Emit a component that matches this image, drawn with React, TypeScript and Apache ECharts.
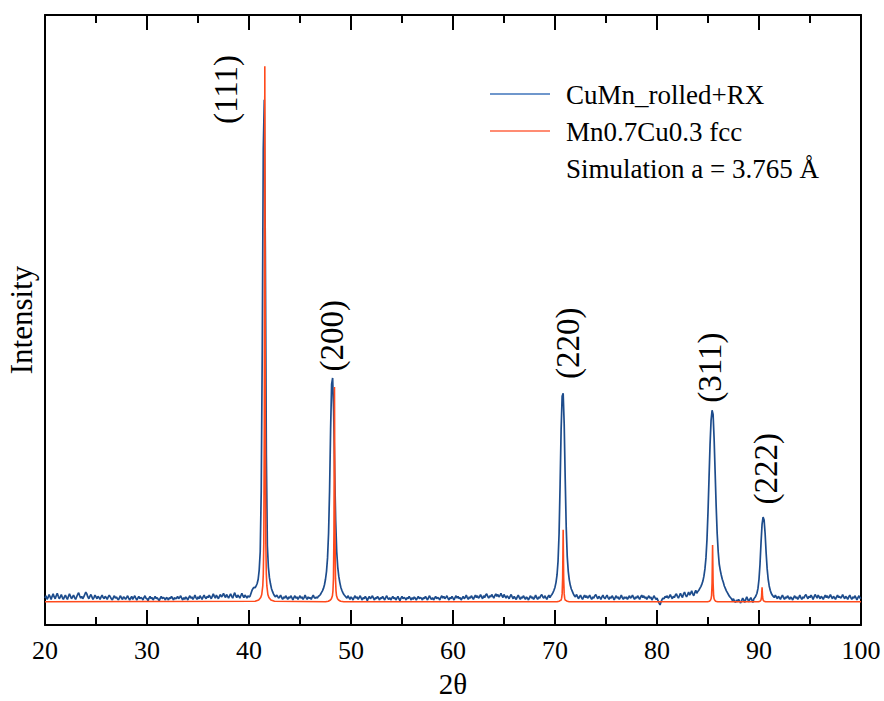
import React, { useEffect, useRef } from "react";
import * as echarts from "echarts";

// Measured pattern: CuMn_rolled+RX, 2θ from 20 to 100 in 0.1° steps
const BLUE_START = 20;
const BLUE_STEP = 0.1;
const blueValues: number[] = [
  44,48,42,45,50,46,42,47,51,46, // 20
  43,48,52,47,43,46,50,45,42,46, // 21
  49,45,42,47,51,47,43,46,49,45, // 22
  42,46,50,53,48,44,47,43,46,50, // 23
  54,51,46,43,47,50,46,42,45,49, // 24
  46,43,47,45,42,46,49,45,43,47, // 25
  45,42,46,49,46,43,41,45,48,44, // 26
  46,43,41,45,48,44,42,46,45,42, // 27
  45,48,44,41,44,47,42,45,48,44, // 28
  41,44,47,43,45,44,41,45,48,44, // 29
  43,40,44,47,43,45,41,44,47,43, // 30
  45,42,40,44,47,43,45,44,41,45, // 31
  44,41,45,43,47,44,41,45,43,44, // 32
  47,43,45,48,44,41,45,42,46,44, // 33
  41,45,48,44,46,42,45,49,45,42, // 34
  46,43,48,45,42,46,49,45,43,47, // 35
  45,49,46,43,47,51,47,44,49,46, // 36
  43,47,50,46,48,52,48,45,50,47, // 37
  44,48,51,47,44,49,53,48,45,49, // 38
  47,44,48,52,48,45,49,47,44,48, // 39
  46,47,52,57,60,62,61,64,68,75, // 40
  90,120,220,450,780,861,620,280,130,95, // 41
  78,68,60,55,51,48,46,49,47,44, // 42
  46,49,45,42,46,44,48,45,42,46, // 43
  44,48,45,41,45,48,44,46,42,45, // 44
  48,44,46,42,45,49,45,42,46,44, // 45
  45,42,46,49,45,44,46,44,47,48, // 46
  50,53,56,60,66,75,88,110,150,220, // 47
  320,395,405,350,250,170,120,95,80,70, // 48
  62,57,53,50,48,46,44,48,45,42, // 49
  46,44,41,45,48,44,46,42,45,48, // 50
  44,41,45,43,47,44,40,44,47,43, // 51
  45,48,44,41,45,43,47,44,41,45, // 52
  43,47,44,41,45,48,44,42,45,41, // 53
  44,47,43,45,41,44,47,43,40,44, // 54
  47,43,45,44,41,45,43,47,44,41, // 55
  45,42,46,44,41,44,47,43,45,44, // 56
  41,45,43,47,44,41,45,48,44,42, // 57
  45,41,44,47,43,45,44,41,45,48, // 58
  44,47,43,45,48,44,41,45,43,47, // 59
  44,41,45,48,44,47,43,45,41,44, // 60
  47,43,45,49,45,42,46,44,48,45, // 61
  42,46,49,45,48,44,46,50,46,43, // 62
  48,45,49,51,47,44,48,46,50,47, // 63
  44,48,51,47,50,46,48,52,48,45, // 64
  50,47,44,48,46,43,47,50,46,43, // 65
  47,44,42,46,49,45,42,46,44,48, // 66
  45,42,46,44,41,45,48,44,46,42, // 67
  45,49,45,42,46,44,48,50,46,44, // 68
  48,45,42,46,49,45,48,50,53,57, // 69
  62,70,82,105,150,230,320,375,380,330, // 70
  240,160,112,88,74,65,59,55,51,48, // 71
  46,50,47,43,46,49,45,42,46,49, // 72
  45,48,44,46,49,45,42,46,44,48, // 73
  50,46,43,47,45,42,46,49,45,43, // 74
  46,49,45,42,46,44,48,45,41,45, // 75
  48,44,46,42,45,49,45,42,46,44, // 76
  46,42,45,48,44,46,49,45,42,46, // 77
  44,48,45,42,46,49,45,48,44,46, // 78
  42,45,48,44,46,41,44,48,45,42, // 79
  44,40,36,33,38,42,44,43,47,45, // 80
  48,44,46,50,46,43,47,45,49,51, // 81
  47,44,48,52,48,45,51,54,49,46, // 82
  50,54,49,52,56,51,48,53,57,52, // 83
  55,57,60,63,67,72,80,92,110,140, // 84
  185,240,295,335,352,345,305,250,195,150, // 85
  120,100,90,82,75,70,64,60,56,53, // 86
  50,47,45,43,40,43,39,37,41,38, // 87
  42,39,36,40,44,41,37,42,46,42, // 88
  38,42,45,41,37,43,45,48,52,60, // 89
  75,100,135,165,177,172,150,118,92,75, // 90
  64,57,52,49,47,45,49,46,43,47, // 91
  45,42,46,49,45,42,46,44,48,45, // 92
  42,46,44,41,45,48,44,46,42,45, // 93
  49,45,42,46,44,48,50,46,43,47, // 94
  45,49,46,42,46,50,47,44,49,46, // 95
  43,47,45,42,46,49,45,48,44,46, // 96
  50,46,43,47,45,42,46,49,45,47, // 97
  44,46,50,46,43,47,45,42,46,49, // 98
  45,42,46,44,48,45,41,45,48,44, // 99
  45, // 100
];

// Simulated fcc pattern: Mn0.7Cu0.3, [2θ, intensity]
const redPoints: [number, number][] = [
  [20, 38], [40.6, 39],
  [40.95, 41], [41.15, 45], [41.25, 50], [41.35, 64], [41.4, 83], [41.45, 134], [41.5, 327], [41.525, 619],
  [41.55, 916],
  [41.575, 619], [41.6, 327], [41.65, 134], [41.7, 83], [41.75, 64], [41.85, 50], [41.95, 45], [42.15, 41], [42.5, 39],
  [47.5, 38], [47.78, 39], [47.98, 41], [48.08, 43], [48.18, 48], [48.23, 56], [48.28, 76], [48.33, 154], [48.355, 271],
  [48.38, 390],
  [48.405, 271], [48.43, 154], [48.48, 76], [48.53, 56], [48.58, 48], [48.68, 43], [48.78, 41], [48.98, 39], [49.3, 38],
  [70.2, 38], [70.4, 39], [70.5, 40], [70.6, 41], [70.65, 44], [70.7, 51], [70.75, 77], [70.775, 116],
  [70.8, 156],
  [70.825, 116], [70.85, 77], [70.9, 51], [70.95, 44], [71.0, 41], [71.1, 40], [71.2, 39], [71.4, 38],
  [84.95, 38], [85.15, 39], [85.25, 41], [85.3, 43], [85.35, 48], [85.4, 69], [85.425, 100],
  [85.45, 131],
  [85.475, 100], [85.5, 69], [85.55, 48], [85.6, 43], [85.65, 41], [85.75, 39], [85.95, 38],
  [89.95, 38], [90.1, 39], [90.2, 41], [90.25, 46], [90.275, 54],
  [90.3, 62],
  [90.325, 54], [90.35, 46], [90.4, 41], [90.5, 39], [90.65, 38],
  [100, 38],
];

// Reflection labels: [2θ, intensity, text]
const peakLabels: [number, number, string][] = [
  [37.75, 878, "(111)"],
  [48.15, 474, "(200)"],
  [71.3, 462, "(220)"],
  [85.2, 422, "(311)"],
  [90.65, 256, "(222)"],
];

const legendItems = ["CuMn_rolled+RX", "Mn0.7Cu0.3 fcc", "Simulation a = 3.765 Å"];
const xTicks = { min: 20, max: 100, interval: 10 };

const FONT = '"Liberation Serif", "Times New Roman", serif';
const BLUE = "#1d4c8c";
const RED = "#ff4a1c";

export default function App() {
  const ref = useRef<HTMLDivElement>(null);
  useEffect(() => {
    if (!ref.current) return;
    const chart = echarts.init(ref.current, null, { renderer: "svg" });
    const blueData = blueValues.map((v, i) => [
      +(BLUE_START + i * BLUE_STEP).toFixed(2),
      v,
    ]);
    const axisCommon = {
      type: "value" as const,
      min: xTicks.min,
      max: xTicks.max,
      interval: xTicks.interval,
      axisLine: { show: true, onZero: false, lineStyle: { color: "#000", width: 2 } },
      axisTick: { show: true, inside: true, length: 15, lineStyle: { color: "#000", width: 2 } },
      minorTick: { show: true, splitNumber: 2, length: 8, lineStyle: { color: "#000", width: 2 } },
      splitLine: { show: false },
      minorSplitLine: { show: false },
    };
    chart.setOption({
      animation: false,
      backgroundColor: "#fff",
      grid: { left: 45, right: 23, top: 15, bottom: 76, containLabel: false, outerBoundsMode: "none" },
      xAxis: [
        {
          ...axisCommon,
          position: "bottom",
          axisLabel: { show: true, fontSize: 26, fontFamily: FONT, color: "#000", margin: 12 },
          name: "2θ",
          nameLocation: "middle",
          nameGap: 44,
          nameTextStyle: { fontSize: 29, lineHeight: 29, fontFamily: FONT, color: "#000" },
        },
        {
          ...axisCommon,
          position: "top",
          axisLabel: { show: false },
        },
      ],
      yAxis: [
        {
          type: "value",
          min: 0,
          max: 1000,
          position: "left",
          axisLine: { show: true, onZero: false, lineStyle: { color: "#000", width: 2 } },
          axisTick: { show: false },
          axisLabel: { show: false },
          splitLine: { show: false },
          name: "Intensity",
          nameLocation: "middle",
          nameGap: 8,
          nameTextStyle: { fontSize: 31, fontFamily: FONT, color: "#000" },
        },
        {
          type: "value",
          min: 0,
          max: 1000,
          position: "right",
          axisLine: { show: true, onZero: false, lineStyle: { color: "#000", width: 2 } },
          axisTick: { show: false },
          axisLabel: { show: false },
          splitLine: { show: false },
        },
      ],
      series: [
        {
          name: legendItems[0],
          type: "line",
          data: blueData,
          showSymbol: false,
          symbol: "none",
          lineStyle: { color: BLUE, width: 1.7 },
          xAxisIndex: 0,
          yAxisIndex: 0,
          z: 2,
        },
        {
          name: legendItems[1],
          type: "line",
          data: redPoints,
          showSymbol: false,
          symbol: "none",
          lineStyle: { color: RED, width: 1.6 },
          xAxisIndex: 0,
          yAxisIndex: 0,
          z: 3,
        },
        {
          type: "scatter",
          data: peakLabels,
          symbolSize: 0,
          silent: true,
          xAxisIndex: 0,
          yAxisIndex: 0,
          itemStyle: { color: "#000", opacity: 1 },
          label: {
            show: true,
            position: "inside",
            rotate: 90,
            align: "center",
            verticalAlign: "middle",
            fontSize: 33,
            fontFamily: FONT,
            color: "#000",
            opacity: 1,
            textBorderWidth: 0,
            textBorderColor: "transparent",
            formatter: (p: any) => p.data[2],
          },
          emphasis: { disabled: true },
          z: 4,
        },
      ],
      graphic: [
        { type: "line", shape: { x1: 490, y1: 94, x2: 550, y2: 94 }, style: { stroke: "#6f97cc", lineWidth: 2 } },
        { type: "text", x: 566, y: 95, style: { text: legendItems[0], fontSize: 27, fontFamily: FONT, fill: "#000", verticalAlign: "middle" } },
        { type: "line", shape: { x1: 490, y1: 131, x2: 550, y2: 131 }, style: { stroke: "#ff8c73", lineWidth: 2 } },
        { type: "text", x: 566, y: 132, style: { text: legendItems[1], fontSize: 27, fontFamily: FONT, fill: "#000", verticalAlign: "middle" } },
        { type: "text", x: 566, y: 169, style: { text: legendItems[2], fontSize: 27, fontFamily: FONT, fill: "#000", verticalAlign: "middle" } },
      ],
    });
    return () => chart.dispose();
  }, []);
  return (
    <div
      ref={ref}
      style={{ position: "absolute", left: 0, top: 0, width: 884, height: 701, background: "#fff" }}
    />
  );
}
